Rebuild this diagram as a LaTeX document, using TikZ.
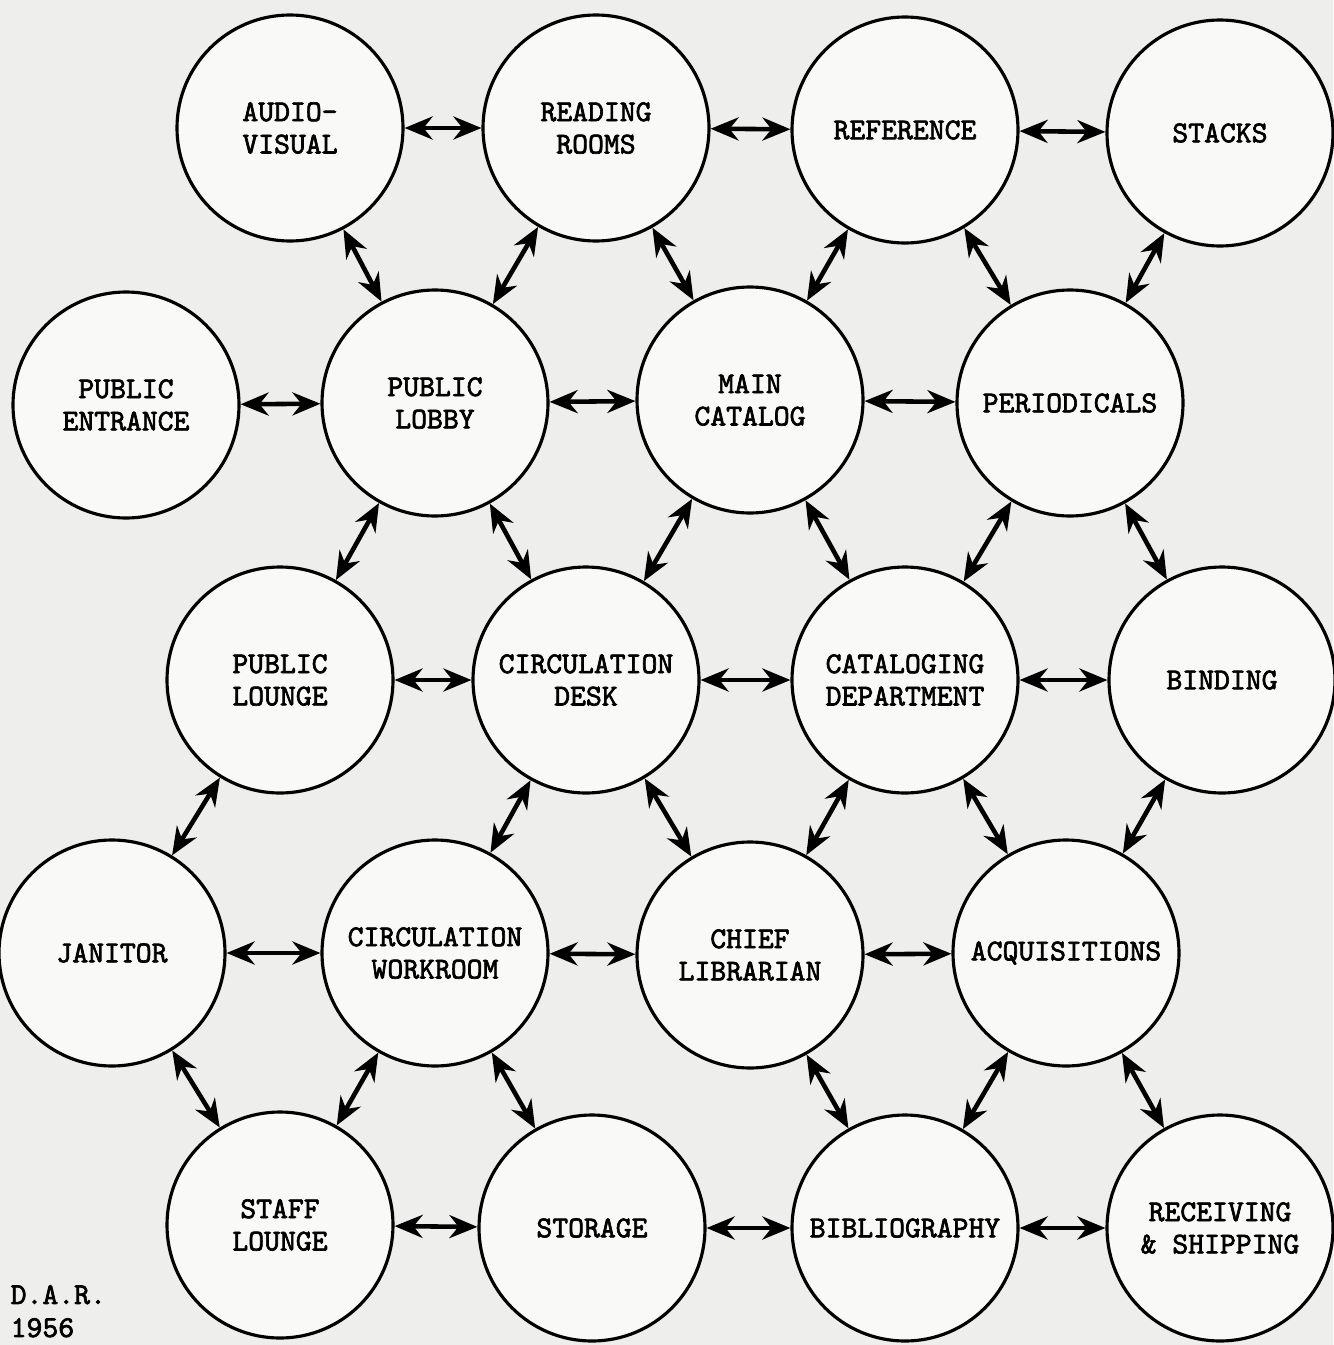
\documentclass[tikz,border=0pt]{standalone}
\usepackage{fontspec}
\newfontfamily\typewriter{lmmono10-regular.otf}[FakeBold=2.2]
\usepackage{tikz}
\usetikzlibrary{positioning,arrows.meta}
\usepackage{xcolor}
\definecolor{Paper}{RGB}{238,238,236}
\definecolor{RoomWhite}{RGB}{249,249,248}

\begin{document}
\begin{tikzpicture}[
    room/.style={circle, draw=black, line width=0.9pt, fill=RoomWhite,
                 minimum size=2.26cm, inner sep=0pt, align=center,
                 font=\typewriter\fontsize{8.6}{9.2}\selectfont},
    arrow/.style={{Stealth[length=2.8mm,width=2.3mm]}-{Stealth[length=2.8mm,width=2.3mm]}, line width=1.3pt}
]
    \fill[Paper] (0,0) rectangle (13.33,-13.45);
    \useasboundingbox (0,0) rectangle (13.33,-13.45);

    % row 1
    \node[room] (av) at (2.90,-1.28) {AUDIO-\\VISUAL};
    \node[room] (read) at (5.96,-1.28) {READING\\ROOMS};
    \node[room] (ref) at (9.05,-1.30) {REFERENCE};
    \node[room] (stacks) at (12.20,-1.33) {STACKS};

    % row 2
    \node[room] (entr) at (1.26,-4.05) {PUBLIC\\ENTRANCE};
    \node[room] (lobby) at (4.35,-4.03) {PUBLIC\\LOBBY};
    \node[room] (catalog) at (7.50,-4.00) {MAIN\\CATALOG};
    \node[room] (period) at (10.70,-4.03) {PERIODICALS};

    % row 3
    \node[room] (lounge) at (2.80,-6.80) {PUBLIC\\LOUNGE};
    \node[room] (desk) at (5.86,-6.80) {CIRCULATION\\DESK};
    \node[room] (catdept) at (9.05,-6.80) {CATALOGING\\DEPARTMENT};
    \node[room] (binding) at (12.22,-6.80) {BINDING};

    % row 4
    \node[room] (janitor) at (1.12,-9.53) {JANITOR};
    \node[room] (workroom) at (4.35,-9.53) {CIRCULATION\\WORKROOM};
    \node[room] (chief) at (7.50,-9.55) {CHIEF\\LIBRARIAN};
    \node[room] (acq) at (10.66,-9.53) {ACQUISITIONS};

    % row 5
    \node[room] (staff) at (2.80,-12.25) {STAFF\\LOUNGE};
    \node[room] (storage) at (5.92,-12.28) {STORAGE};
    \node[room] (biblio) at (9.05,-12.28) {BIBLIOGRAPHY};
    \node[room] (receiving) at (12.20,-12.28) {RECEIVING\\\& SHIPPING};

    % across
    \draw[arrow] (av) -- (read);
    \draw[arrow] (read) -- (ref);
    \draw[arrow] (ref) -- (stacks);
    \draw[arrow] (entr) -- (lobby);
    \draw[arrow] (lobby) -- (catalog);
    \draw[arrow] (catalog) -- (period);
    \draw[arrow] (lounge) -- (desk);
    \draw[arrow] (desk) -- (catdept);
    \draw[arrow] (catdept) -- (binding);
    \draw[arrow] (janitor) -- (workroom);
    \draw[arrow] (workroom) -- (chief);
    \draw[arrow] (chief) -- (acq);
    \draw[arrow] (staff) -- (storage);
    \draw[arrow] (storage) -- (biblio);
    \draw[arrow] (biblio) -- (receiving);

    % slanted
    \draw[arrow] (av) -- (lobby);
    \draw[arrow] (read) -- (lobby);
    \draw[arrow] (read) -- (catalog);
    \draw[arrow] (ref) -- (catalog);
    \draw[arrow] (ref) -- (period);
    \draw[arrow] (stacks) -- (period);
    \draw[arrow] (lobby) -- (lounge);
    \draw[arrow] (lobby) -- (desk);
    \draw[arrow] (catalog) -- (desk);
    \draw[arrow] (catalog) -- (catdept);
    \draw[arrow] (period) -- (catdept);
    \draw[arrow] (period) -- (binding);
    \draw[arrow] (lounge) -- (janitor);
    \draw[arrow] (desk) -- (workroom);
    \draw[arrow] (desk) -- (chief);
    \draw[arrow] (catdept) -- (chief);
    \draw[arrow] (catdept) -- (acq);
    \draw[arrow] (binding) -- (acq);
    \draw[arrow] (janitor) -- (staff);
    \draw[arrow] (workroom) -- (staff);
    \draw[arrow] (workroom) -- (storage);
    \draw[arrow] (chief) -- (biblio);
    \draw[arrow] (acq) -- (biblio);
    \draw[arrow] (acq) -- (receiving);

    \node[anchor=south west, align=left, inner sep=0pt,
          font=\typewriter\fontsize{8.6}{9.4}\selectfont] (mark) at (0.10,-13.38) {D.A.R.\\1956};
\end{tikzpicture}
\end{document}
